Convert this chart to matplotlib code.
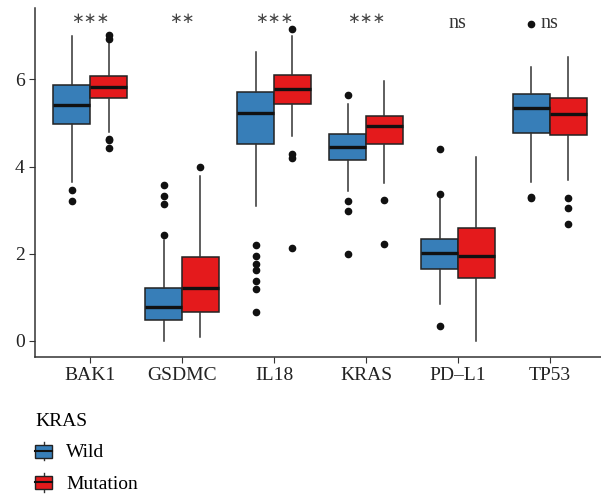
import numpy as np
import matplotlib
matplotlib.use('Agg')
import matplotlib.pyplot as plt
from matplotlib.patches import Rectangle
from matplotlib.lines import Line2D
from matplotlib.legend_handler import HandlerBase

plt.rcParams['font.family'] = ['Liberation Serif', 'DejaVu Serif']

genes = ['BAK1', 'GSDMC', 'IL18', 'KRAS', 'PD\u2013L1', 'TP53']
groups = ['Wild', 'Mutation']
signif = ['***', '**', '***', '***', 'ns', 'ns']

# box statistics: [Wild, Mutation] per gene
wild_q1 = [4.98, 0.47, 4.52, 4.16, 1.64, 4.78]
wild_med = [5.42, 0.78, 5.24, 4.46, 2.02, 5.35]
wild_q3 = [5.88, 1.22, 5.72, 4.75, 2.33, 5.66]
wild_lo = [3.65, 0.0, 3.10, 3.43, 0.84, 3.64]
wild_hi = [7.0, 2.32, 6.64, 5.43, 3.28, 6.29]
wild_out = [[3.46, 3.2],
            [2.43, 3.15, 3.33, 3.57],
            [2.2, 1.95, 1.77, 1.62, 1.38, 1.19, 0.67],
            [5.64, 3.2, 2.98, 2.0],
            [3.36, 4.41, 0.35],
            [7.27, 3.31, 3.28]]

mut_q1 = [5.57, 0.66, 5.43, 4.53, 1.45, 4.73]
mut_med = [5.82, 1.21, 5.77, 4.94, 1.94, 5.20]
mut_q3 = [6.09, 1.92, 6.10, 5.17, 2.58, 5.57]
mut_lo = [4.80, 0.10, 4.71, 3.62, 0.0, 3.69]
mut_hi = [6.83, 3.79, 7.0, 5.96, 4.23, 6.52]
mut_out = [[7.03, 6.92, 4.63, 4.60, 4.43],
           [4.0],
           [7.15, 4.30, 4.19, 2.14],
           [3.23, 2.22],
           [],
           [3.28, 3.06, 2.68]]

colors = ['#377EB8', '#E41A1C']
edge = '#222222'


def stats(q1, med, q3, lo, hi, out):
    return [dict(q1=a, med=b, q3=c, whislo=d, whishi=e, fliers=f)
            for a, b, c, d, e, f in zip(q1, med, q3, lo, hi, out)]


fig = plt.figure(figsize=(6.01, 4.98), dpi=100)
ax = fig.add_axes([35/601, 141/498, 570/601, 349/498])

x = np.arange(len(genes))
sets = [stats(wild_q1, wild_med, wild_q3, wild_lo, wild_hi, wild_out),
        stats(mut_q1, mut_med, mut_q3, mut_lo, mut_hi, mut_out)]
for i, st in enumerate(sets):
    pos = x + (i - 0.5) * 0.4
    ax.bxp(st, positions=pos, widths=0.4, patch_artist=True, showcaps=False,
           boxprops=dict(facecolor=colors[i], edgecolor=edge, linewidth=1.1),
           medianprops=dict(color='#111111', linewidth=2.4),
           whiskerprops=dict(color='#333333', linewidth=1.1),
           flierprops=dict(marker='o', markerfacecolor='#111111',
                           markeredgecolor='#111111', markersize=4.5))

for xi, s in zip(x, signif):
    if s == 'ns':
        ax.text(xi, 7.18, s, ha='center', va='baseline', fontsize=14.5,
                color='#333333')
    else:
        ax.text(xi, 7.39, s.replace('*', '\u2217'), ha='center', va='center',
                fontsize=11, color='#444444', family='DejaVu Sans')

ax.set_xlim(-0.6, 5.6)
ax.set_ylim(-0.37, 7.64)
ax.set_xticks(x)
ax.set_xticklabels(genes)
ax.set_yticks([0, 2, 4, 6])
ax.tick_params(labelsize=14, length=4, color='#333333', labelcolor='#222222')
for s in ['top', 'right']:
    ax.spines[s].set_visible(False)
for s in ['left', 'bottom']:
    ax.spines[s].set_color('#333333')
    ax.spines[s].set_linewidth(1.1)


class BoxHandler(HandlerBase):
    def create_artists(self, legend, orig, xd, yd, w, h, fontsize, trans):
        fc = orig.get_facecolor()
        wl = Line2D([xd + w/2]*2, [yd - h*0.2, yd + h*1.2], color='#333333',
                    lw=1.0, transform=trans)
        r = Rectangle((xd, yd), w, h, facecolor=fc, edgecolor=edge,
                      lw=1.0, transform=trans)
        m = Line2D([xd, xd + w], [yd + h/2]*2, color='#111111', lw=1.5,
                   transform=trans)
        return [wl, r, m]


handles = [Rectangle((0, 0), 1, 1, facecolor=c) for c in colors]
leg = fig.legend(handles, groups, title='KRAS', loc='upper left',
                 bbox_to_anchor=(35/601, 1 - 413/498), frameon=False,
                 fontsize=14, title_fontsize=14, handlelength=0.88,
                 handleheight=0.65, labelspacing=0.72, handletextpad=0.72,
                 borderaxespad=0, borderpad=0,
                 handler_map={Rectangle: BoxHandler()})
leg._legend_box.align = 'left'

fig.savefig('out.png', dpi=100)
